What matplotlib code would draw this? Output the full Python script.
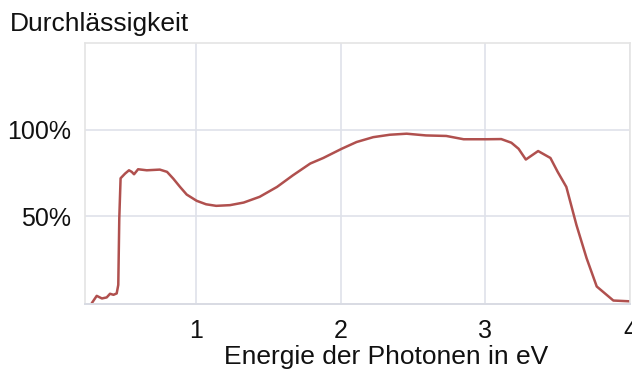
import matplotlib.pyplot as plt

# Transmission curve
energy = [0.28, 0.314, 0.35, 0.383, 0.406, 0.43, 0.452, 0.463, 0.47, 0.479,
          0.51, 0.537, 0.556, 0.572, 0.60, 0.66, 0.75, 0.80, 0.843, 0.89,
          0.936, 1.005, 1.07, 1.14, 1.235, 1.33, 1.44, 1.56, 1.67, 1.79,
          1.88, 2.007, 2.11, 2.225, 2.34, 2.456, 2.59, 2.73, 2.85, 3.01,
          3.11, 3.18, 3.23, 3.28, 3.365, 3.45, 3.50, 3.56, 3.63, 3.70,
          3.77, 3.885, 4.01]
transmission = [0.0, 4.2, 2.7, 3.3, 5.4, 4.8, 5.6, 10.5, 49, 72,
                74.7, 76.6, 75.7, 74.3, 77.2, 76.6, 77, 75.7, 71.8, 67,
                62.6, 59, 57, 56.1, 56.5, 58, 61.3, 67, 73.7, 80.5,
                83.7, 89, 92.9, 95.7, 97.1, 97.7, 96.7, 96.4, 94.5, 94.5,
                94.6, 92.5, 89, 82.8, 87.7, 83.7, 75.7, 67, 45, 25.9,
                9.6, 1.5, 1.0]

x_ticks = [1, 2, 3, 4]
y_ticks = [50, 100]
y_tick_labels = ['50%', '100%']

plt.rcParams['font.family'] = ['Liberation Sans', 'DejaVu Sans']

fig = plt.figure(figsize=(6.32, 3.70), dpi=100)
ax = fig.add_axes([85 / 632, 66 / 370, 545 / 632, 261 / 370])

ax.plot(energy, transmission, color='#b0504e', linewidth=1.8, solid_capstyle='round')

ax.set_xlim(0.233, 4.0)
ax.set_ylim(-0.5, 150)
ax.set_xticks(x_ticks)
ax.set_yticks(y_ticks)
ax.set_yticklabels(y_tick_labels)
ax.tick_params(length=0, labelsize=18, colors='#111111')
ax.tick_params(axis='x', pad=11)
ax.tick_params(axis='y', pad=10)

ax.grid(True, color='#dfe2ea', linewidth=1.2)
ax.set_axisbelow(True)
for side in ['left', 'top', 'right']:
    ax.spines[side].set_color('#e4e4e4')
    ax.spines[side].set_linewidth(1.2)
ax.spines['bottom'].set_color('#d8dbe3')
ax.spines['bottom'].set_linewidth(1.4)

fig.text(10 / 632, 1 - 31 / 370, 'Durchlässigkeit', fontsize=19,
         ha='left', va='baseline', color='#111111')
fig.text(386 / 632, 6 / 370, 'Energie der Photonen in eV', fontsize=19,
         ha='center', va='baseline', color='#111111')

fig.savefig('out.png', dpi=100)
